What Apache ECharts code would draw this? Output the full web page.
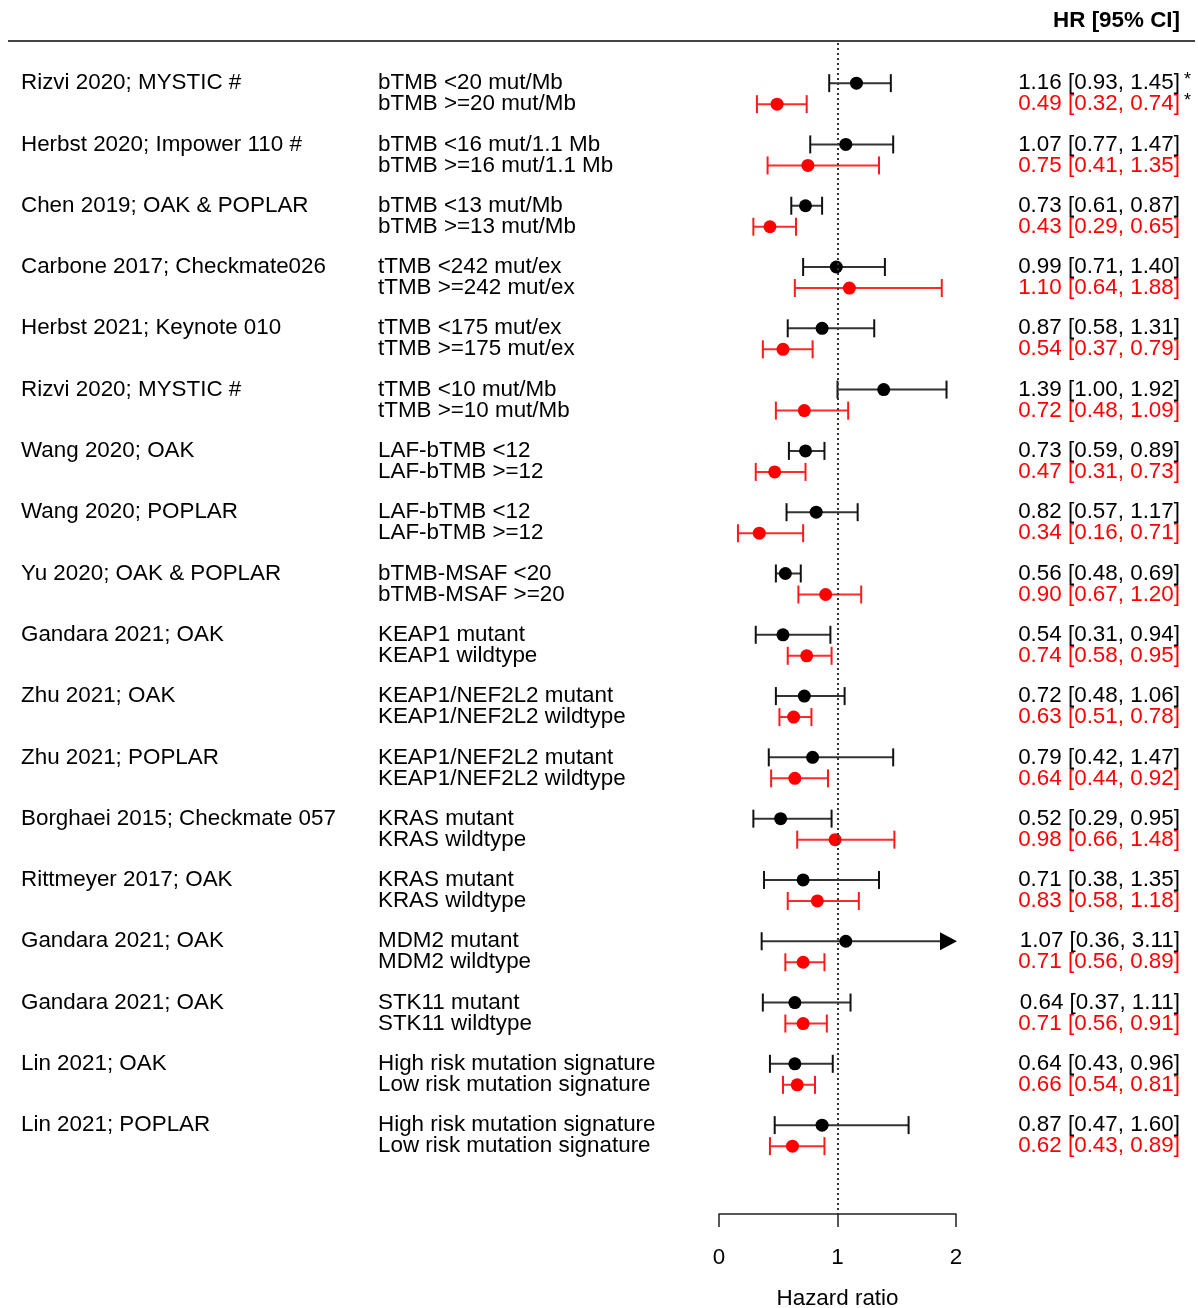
<!DOCTYPE html>
<html><head><meta charset="utf-8">
<script src="https://cdn.jsdelivr.net/npm/echarts@6/dist/echarts.min.js"></script>
<style>html,body{margin:0;padding:0;background:#fff}#c{width:1198px;height:1308px}</style>
</head><body><div id="c"></div>
<script>
// ---------------- DATA ----------------
const studies = [
  'Rizvi 2020; MYSTIC #', 'Herbst 2020; Impower 110 #', 'Chen 2019; OAK & POPLAR',
  'Carbone 2017; Checkmate026', 'Herbst 2021; Keynote 010', 'Rizvi 2020; MYSTIC #',
  'Wang 2020; OAK', 'Wang 2020; POPLAR', 'Yu 2020; OAK & POPLAR', 'Gandara 2021; OAK',
  'Zhu 2021; OAK', 'Zhu 2021; POPLAR', 'Borghaei 2015; Checkmate 057', 'Rittmeyer 2017; OAK',
  'Gandara 2021; OAK', 'Gandara 2021; OAK', 'Lin 2021; OAK', 'Lin 2021; POPLAR'
];
const groupsA = [
  'bTMB <20 mut/Mb', 'bTMB <16 mut/1.1 Mb', 'bTMB <13 mut/Mb', 'tTMB <242 mut/ex',
  'tTMB <175 mut/ex', 'tTMB <10 mut/Mb', 'LAF-bTMB <12', 'LAF-bTMB <12', 'bTMB-MSAF <20',
  'KEAP1 mutant', 'KEAP1/NEF2L2 mutant', 'KEAP1/NEF2L2 mutant', 'KRAS mutant', 'KRAS mutant',
  'MDM2 mutant', 'STK11 mutant', 'High risk mutation signature', 'High risk mutation signature'
];
const groupsB = [
  'bTMB >=20 mut/Mb', 'bTMB >=16 mut/1.1 Mb', 'bTMB >=13 mut/Mb', 'tTMB >=242 mut/ex',
  'tTMB >=175 mut/ex', 'tTMB >=10 mut/Mb', 'LAF-bTMB >=12', 'LAF-bTMB >=12', 'bTMB-MSAF >=20',
  'KEAP1 wildtype', 'KEAP1/NEF2L2 wildtype', 'KEAP1/NEF2L2 wildtype', 'KRAS wildtype', 'KRAS wildtype',
  'MDM2 wildtype', 'STK11 wildtype', 'Low risk mutation signature', 'Low risk mutation signature'
];
const hrA = [1.16, 1.07, 0.73, 0.99, 0.87, 1.39, 0.73, 0.82, 0.56, 0.54, 0.72, 0.79, 0.52, 0.71, 1.07, 0.64, 0.64, 0.87];
const loA = [0.93, 0.77, 0.61, 0.71, 0.58, 1.00, 0.59, 0.57, 0.48, 0.31, 0.48, 0.42, 0.29, 0.38, 0.36, 0.37, 0.43, 0.47];
const hiA = [1.45, 1.47, 0.87, 1.40, 1.31, 1.92, 0.89, 1.17, 0.69, 0.94, 1.06, 1.47, 0.95, 1.35, 3.11, 1.11, 0.96, 1.60];
const hrB = [0.49, 0.75, 0.43, 1.10, 0.54, 0.72, 0.47, 0.34, 0.90, 0.74, 0.63, 0.64, 0.98, 0.83, 0.71, 0.71, 0.66, 0.62];
const loB = [0.32, 0.41, 0.29, 0.64, 0.37, 0.48, 0.31, 0.16, 0.67, 0.58, 0.51, 0.44, 0.66, 0.58, 0.56, 0.56, 0.54, 0.43];
const hiB = [0.74, 1.35, 0.65, 1.88, 0.79, 1.09, 0.73, 0.71, 1.20, 0.95, 0.78, 0.92, 1.48, 1.18, 0.89, 0.91, 0.81, 0.89];
const starred = [0];          // studies whose estimates carry an asterisk
const xTicks = [0, 1, 2];
const refLine = 1;

// ---------------- LAYOUT ----------------
const FONT = "'Liberation Sans', Arial, sans-serif";
const FS = 22.4;
const COL_STUDY = 21, COL_GROUP = 378, COL_EST = 1180;
const PAIR_OFFSET = 0.3427;   // second row offset within a study (in row units)
const X_MIN = xTicks[0], X_MAX = xTicks[xTicks.length - 1];

const rows = [];
studies.forEach((s, i) => {
  rows.push({ y: i, kind: 0, study: s, group: groupsA[i], hr: hrA[i], lo: loA[i], hi: hiA[i], star: starred.includes(i) });
  rows.push({ y: i + PAIR_OFFSET, kind: 1, study: '', group: groupsB[i], hr: hrB[i], lo: loB[i], hi: hiB[i], star: starred.includes(i) });
});
const fmt = v => v.toFixed(2);

function renderItem(params, api) {
  const r = rows[params.dataIndex];
  const yPx = api.coord([X_MIN, api.value(1)])[1];
  const xlo = api.coord([api.value(2), 0])[0];
  const hiVal = api.value(3);
  const clipped = hiVal > X_MAX;
  const xhi = api.coord([Math.min(hiVal, X_MAX), 0])[0];
  const lineCol = r.kind === 0 ? '#333' : '#ff2a2a';
  const capCol = r.kind === 0 ? '#111' : '#ff1a1a';
  const txtCol = r.kind === 0 ? '#000' : '#ff0000';
  const ch = [];
  ch.push({ type: 'line', shape: { x1: xlo, y1: yPx, x2: clipped ? xhi - 12 : xhi, y2: yPx }, style: { stroke: lineCol, lineWidth: 2 } });
  ch.push({ type: 'line', shape: { x1: xlo, y1: yPx - 9, x2: xlo, y2: yPx + 9 }, style: { stroke: capCol, lineWidth: 2 } });
  if (clipped) {
    ch.push({ type: 'polygon', shape: { points: [[xhi - 16, yPx - 9], [xhi + 1, yPx], [xhi - 16, yPx + 9]] }, style: { fill: '#000' } });
  } else {
    ch.push({ type: 'line', shape: { x1: xhi, y1: yPx - 9, x2: xhi, y2: yPx + 9 }, style: { stroke: capCol, lineWidth: 2 } });
  }
  if (r.study) {
    ch.push({ type: 'text', style: { text: r.study, x: COL_STUDY, y: yPx, fill: '#000', fontSize: FS, fontFamily: FONT, align: 'left', verticalAlign: 'middle' } });
  }
  ch.push({ type: 'text', style: { text: r.group, x: COL_GROUP, y: yPx, fill: '#000', fontSize: FS, fontFamily: FONT, align: 'left', verticalAlign: 'middle' } });
  ch.push({ type: 'text', style: { text: fmt(r.hr) + ' [' + fmt(r.lo) + ', ' + fmt(r.hi) + ']', x: COL_EST, y: yPx, fill: txtCol, fontSize: FS, fontFamily: FONT, align: 'right', verticalAlign: 'middle' } });
  if (r.star) {
    ch.push({ type: 'text', style: { text: '*', x: COL_EST + 4, y: yPx - 3, fill: '#000', fontSize: 18, fontFamily: FONT, align: 'left', verticalAlign: 'middle' } });
  }
  return { type: 'group', children: ch };
}

const chart = echarts.init(document.getElementById('c'), null, { renderer: 'canvas' });
chart.setOption({
  animation: false,
  backgroundColor: '#fff',
  grid: { left: 719, width: 237, top: 43, height: 1171, containLabel: false, outerBoundsMode: 'none' },
  xAxis: {
    type: 'value', min: X_MIN, max: X_MAX, interval: 1,
    axisLine: { show: true, onZero: false, lineStyle: { color: '#222', width: 1.5 } },
    axisTick: { show: true, length: 13, lineStyle: { color: '#222', width: 1.5 } },
    axisLabel: { fontSize: FS, fontFamily: FONT, color: '#000', margin: 33 },
    splitLine: { show: false },
    name: 'Hazard ratio', nameLocation: 'middle', nameGap: 74,
    nameTextStyle: { fontSize: FS, fontFamily: FONT, color: '#000' }
  },
  yAxis: { type: 'value', inverse: true, min: -0.655, max: 18.45, show: false },
  graphic: [
    { type: 'line', shape: { x1: 8, y1: 41, x2: 1195, y2: 41 }, style: { stroke: '#444', lineWidth: 2 } },
    { type: 'text', x: 1180, y: 21, style: { text: 'HR [95% CI]', fontSize: FS, fontWeight: 'bold', fontFamily: FONT, fill: '#000', align: 'right', verticalAlign: 'middle' } }
  ],
  series: [
    {
      type: 'custom', renderItem: renderItem, clip: false, z: 2,
      data: rows.map(r => [r.hr, r.y, r.lo, r.hi])
    },
    {
      type: 'scatter', symbolSize: 13, z: 3, itemStyle: { color: '#000', opacity: 1 },
      data: rows.filter(r => r.kind === 0).map(r => [r.hr, r.y]),
      markLine: {
        silent: true, symbol: 'none', label: { show: false },
        lineStyle: { color: '#333', width: 2, type: [2, 3] },
        data: [{ xAxis: refLine }]
      }
    },
    {
      type: 'scatter', symbolSize: 13, z: 3, itemStyle: { color: '#ff0000', opacity: 1 },
      data: rows.filter(r => r.kind === 1).map(r => [r.hr, r.y])
    }
  ]
});
</script>
</body></html>
